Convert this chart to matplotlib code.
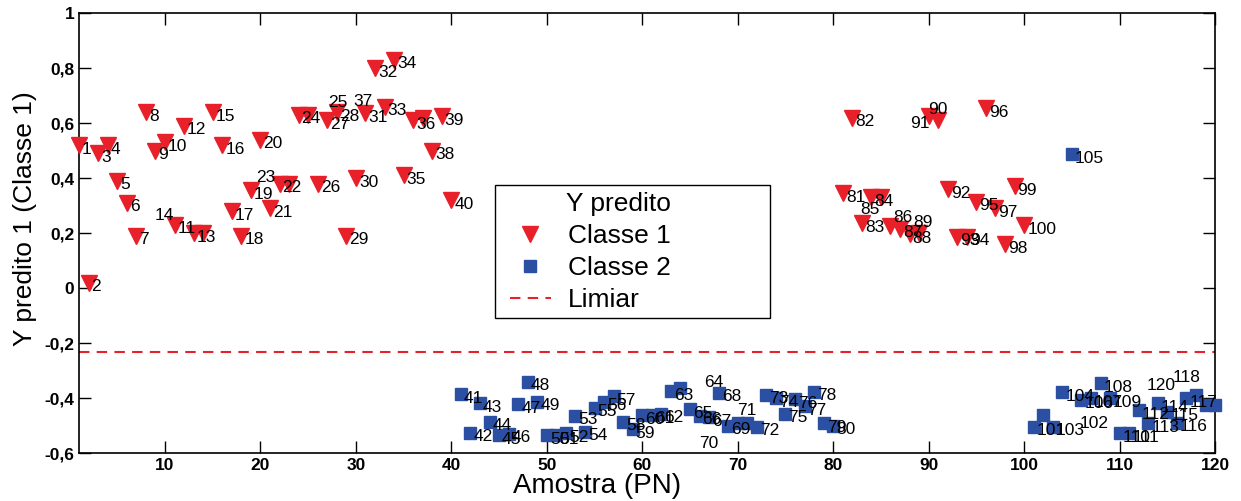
import numpy as np
import matplotlib
matplotlib.use("Agg")
import matplotlib.pyplot as plt
from matplotlib.patches import Rectangle
from matplotlib.ticker import FuncFormatter

plt.rcParams['font.family'] = ['Liberation Sans', 'DejaVu Sans']

# DATA
classe1_x = list(range(1, 41)) + list(range(81, 101))
classe1_y = [0.52, 0.02, 0.49, 0.52, 0.39, 0.31, 0.19, 0.64, 0.50, 0.53,
             0.23, 0.59, 0.20, 0.20, 0.64, 0.52, 0.28, 0.19, 0.355, 0.54,
             0.29, 0.38, 0.38, 0.63, 0.63, 0.38, 0.61, 0.64, 0.19, 0.40,
             0.635, 0.80, 0.66, 0.83, 0.41, 0.61, 0.62, 0.50, 0.625, 0.32,
             0.345, 0.62, 0.235, 0.33, 0.33, 0.225, 0.215, 0.195, 0.20, 0.625,
             0.61, 0.36, 0.187, 0.187, 0.314, 0.653, 0.29, 0.16, 0.37, 0.229]

classe2_x = list(range(41, 81)) + list(range(101, 121))
classe2_y = [-0.387, -0.526, -0.419, -0.486, -0.535, -0.53, -0.423, -0.341, -0.413, -0.535,
             -0.535, -0.528, -0.465, -0.522, -0.435, -0.413, -0.393, -0.486, -0.514, -0.462,
             -0.46, -0.458, -0.375, -0.365, -0.441, -0.465, -0.47, -0.381, -0.50, -0.49,
             -0.49, -0.504, -0.389, -0.40, -0.458, -0.405, -0.43, -0.377, -0.492, -0.50,
             -0.504, -0.462, -0.504, -0.379, 0.487, -0.407, -0.40, -0.347, -0.40, -0.528,
             -0.528, -0.444, -0.492, -0.419, -0.45, -0.49, -0.40, -0.389, -0.425, -0.425]

limiar = -0.234

# label positions that differ from the default (pixel offsets of text centre)
label_offsets = {14: (-39, 18), 23: (-23, 6), 25: (30, 12), 37: (-60, 16),
                 85: (-11, -12), 86: (12, 9), 89: (4, 11), 90: (9, 7), 91: (-18, -3),
                 70: (-29, -21), 64: (33, 6), 71: (0, 12), 102: (51, -8),
                 120: (-54, 19), 118: (-9, 17)}
hidden_labels = [119]

W, H = 1241, 501
fig = plt.figure(figsize=(W / 100, H / 100), dpi=100)
ax = fig.add_axes([0.0637, 0.0958, 0.9154, 0.8782])

red = '#e8202a'
blue = '#2b50a3'

ax.plot(classe1_x, classe1_y, linestyle='none', marker='v', markersize=11,
        color=red, label='Classe 1', clip_on=False, zorder=3)
ax.plot(classe2_x, classe2_y, linestyle='none', marker='s', markersize=9,
        color=blue, label='Classe 2', clip_on=False, zorder=3)
ax.axhline(limiar, color=red, linestyle=(0, (5, 3.5)), linewidth=1.5, label='Limiar')

def put_label(x, y):
    if x in hidden_labels:
        return
    if x in label_offsets:
        dx, dy = label_offsets[x]
        ax.annotate(str(x), (x, y), xytext=(dx, dy), textcoords='offset pixels',
                    ha='center', va='center', fontsize=12.5, zorder=4)
    else:
        ax.annotate(str(x), (x, y), xytext=(3, -4), textcoords='offset pixels',
                    ha='left', va='center', fontsize=12.5, zorder=4)

for x, y in zip(classe1_x, classe1_y):
    put_label(x, y)
for x, y in zip(classe2_x, classe2_y):
    put_label(x, y)

ax.set_xlim(1, 120)
ax.set_ylim(-0.6, 1)
ax.set_xticks(np.arange(10, 121, 10))
ax.set_yticks(np.arange(-0.6, 1.01, 0.2))

def comma(v, pos):
    v = round(v, 1)
    if abs(v) < 1e-9:
        return '0'
    return ('%g' % v).replace('.', ',')

ax.yaxis.set_major_formatter(FuncFormatter(comma))
ax.tick_params(direction='in', length=8.5, width=1, top=True, right=True, labelsize=12.5)
for lab in ax.get_xticklabels() + ax.get_yticklabels():
    lab.set_fontweight('bold')
for sp in ax.spines.values():
    sp.set_linewidth(1.2)

ax.set_xlabel('Amostra (PN)', fontsize=20)
ax.xaxis.set_label_coords(0.456, -0.045)
ax.set_ylabel('Y predito 1 (Classe 1)', fontsize=19)
ax.yaxis.set_label_coords(-0.037, 0.532)

# legend box (wider than its content, as in the original)
frame = Rectangle((495 / W, 1 - 318 / H), 275 / W, 133 / H, transform=fig.transFigure,
                  facecolor='white', edgecolor='black', linewidth=1.0, zorder=5)
ax.add_patch(frame)
leg = ax.legend(loc='upper left', bbox_to_anchor=(510 / W, 1 - 192 / H),
                bbox_transform=fig.transFigure, title='Y predito', alignment='right',
                fontsize=19, title_fontsize=19, frameon=False, handlelength=1.55,
                handletextpad=0.65, borderpad=0, borderaxespad=0, labelspacing=0.3)
leg.set_zorder(6)

fig.savefig('out.png', dpi=100)
